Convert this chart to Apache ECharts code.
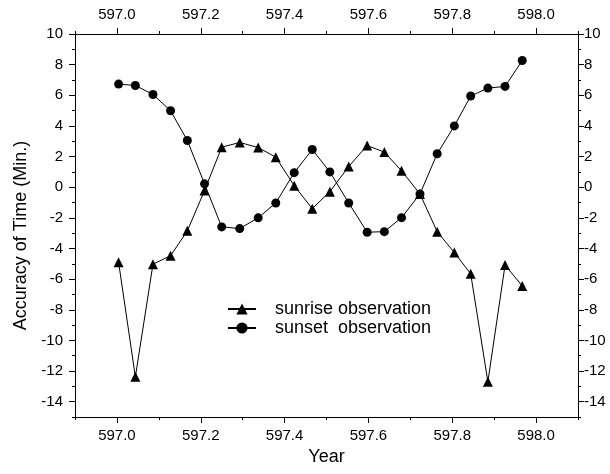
<!DOCTYPE html>
<html>
<head>
<meta charset="utf-8">
<script src="https://cdn.jsdelivr.net/npm/echarts@6/dist/echarts.min.js"></script>
<style>
html,body{margin:0;padding:0;background:#fff;}
#chart{width:610px;height:474px;}
</style>
</head>
<body>
<div id="chart"></div>
<script>
const years = [597.004, 597.044, 597.086, 597.128, 597.168, 597.209, 597.250, 597.293, 597.337, 597.379, 597.423, 597.466, 597.508, 597.553, 597.597, 597.638, 597.679, 597.723, 597.764, 597.805, 597.844, 597.885, 597.926, 597.967];
const sunrise = [-4.90, -12.38, -5.03, -4.47, -2.85, -0.22, 2.61, 2.92, 2.59, 1.96, 0.10, -1.40, -0.29, 1.35, 2.72, 2.29, 1.07, -0.44, -2.90, -4.27, -5.65, -12.70, -5.08, -6.45];
const sunset = [6.73, 6.64, 6.05, 4.99, 3.05, 0.22, -2.59, -2.70, -2.00, -1.03, 0.95, 2.46, 1.00, -1.03, -2.94, -2.90, -1.99, -0.44, 2.18, 4.00, 5.95, 6.47, 6.58, 8.27];
const xTicks = [597.0, 597.2, 597.4, 597.6, 597.8, 598.0];
const yTicks = [-14, -12, -10, -8, -6, -4, -2, 0, 2, 4, 6, 8, 10];
const seriesNames = ['sunrise observation', 'sunset  observation'];

const FONT = 'Liberation Sans, Arial, sans-serif';
const line = {show: true, onZero: false, lineStyle: {color: '#000', width: 1}};

function xMinor(pos) {
  return {type: 'value', position: pos, min: 596.9, max: 598.1, interval: 0.1,
    axisLine: line, splitLine: {show: false},
    axisTick: {show: true, inside: false, length: 3, lineStyle: {color: '#000'}},
    axisLabel: {show: false}};
}
function xMajor(pos, name) {
  return {type: 'value', position: pos, min: 596.9, max: 598.1,
    name: name, nameLocation: 'middle', nameGap: 30,
    nameTextStyle: {fontFamily: FONT, fontSize: 18, color: '#000'},
    axisLine: line, splitLine: {show: false},
    axisTick: {show: true, inside: false, length: 6, customValues: xTicks, lineStyle: {color: '#000'}},
    axisLabel: {show: true, customValues: xTicks, margin: pos === 'top' ? 12 : 11,
      fontFamily: FONT, fontSize: 15, color: '#000',
      formatter: v => Number(v).toFixed(1)}};
}
function yMinor(pos) {
  return {type: 'value', position: pos, min: -15, max: 10, interval: 1,
    axisLine: line, splitLine: {show: false},
    axisTick: {show: true, inside: false, length: 3, lineStyle: {color: '#000'}},
    axisLabel: {show: false}};
}
function yMajor(pos, name) {
  return {type: 'value', position: pos, min: -15, max: 10,
    name: name, nameLocation: 'middle', nameGap: 40, nameRotate: 90,
    nameTextStyle: {fontFamily: FONT, fontSize: 18, color: '#000', padding: [0, 20, 0, 0]},
    axisLine: line, splitLine: {show: false},
    axisTick: {show: true, inside: false, length: 6, customValues: yTicks, lineStyle: {color: '#000'}},
    axisLabel: {show: true, customValues: yTicks, margin: pos === 'left' ? 12 : 6,
      fontFamily: FONT, fontSize: 15, color: '#000'}};
}

const chart = echarts.init(document.getElementById('chart'), null, {renderer: 'canvas'});
chart.setOption({
  backgroundColor: '#fff',
  animation: false,
  grid: {left: 75, right: 32, top: 34, bottom: 57},
  xAxis: [xMinor('bottom'), xMajor('bottom', 'Year'), xMinor('top'), xMajor('top', '')],
  yAxis: [yMinor('left'), yMajor('left', 'Accuracy of Time (Min.)'), yMinor('right'), yMajor('right', '')],
  legend: {
    orient: 'vertical', left: 222, top: 295, itemWidth: 28, itemHeight: 14, itemGap: 1,
    textStyle: {fontFamily: FONT, fontSize: 18, color: '#000', padding: [0, 0, 0, 14]},
    data: seriesNames
  },
  series: [
    {name: seriesNames[0], type: 'line', xAxisIndex: 1, yAxisIndex: 1,
     data: years.map((x, i) => [x, sunrise[i]]),
     symbol: 'triangle', symbolSize: 10, showSymbol: true,
     lineStyle: {color: '#000', width: 1}, itemStyle: {color: '#000'}},
    {name: seriesNames[1], type: 'line', xAxisIndex: 1, yAxisIndex: 1,
     data: years.map((x, i) => [x, sunset[i]]),
     symbol: 'circle', symbolSize: 9, showSymbol: true,
     lineStyle: {color: '#000', width: 1}, itemStyle: {color: '#000'}}
  ]
});
</script>
</body>
</html>
